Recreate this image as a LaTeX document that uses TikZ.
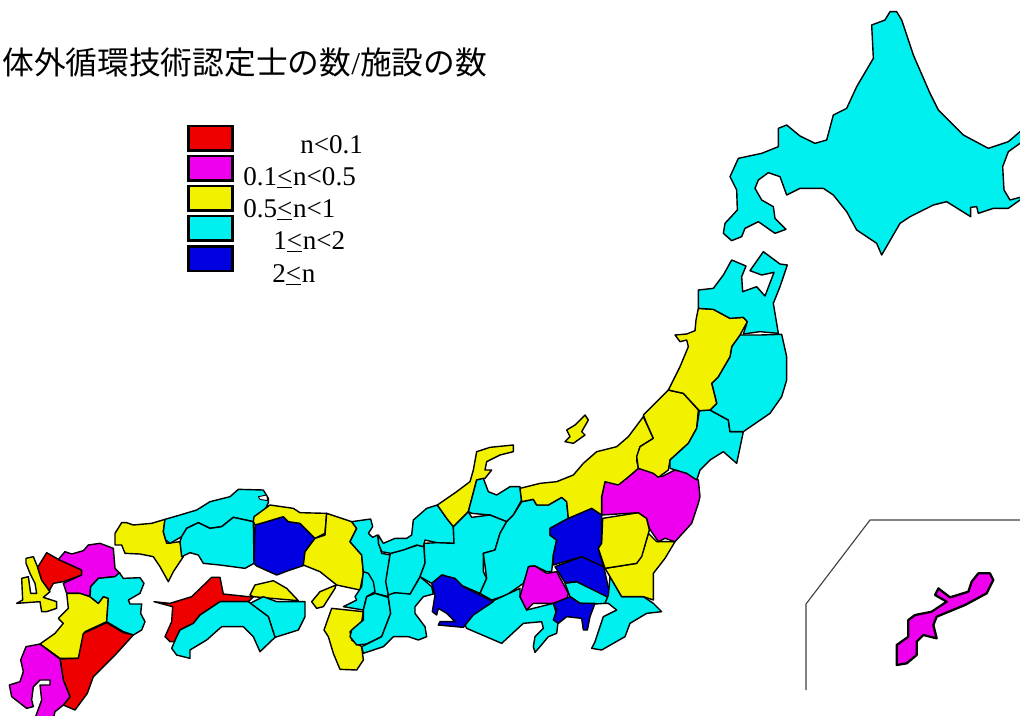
\documentclass[tikz,border=0pt]{standalone}
\usepackage{fontspec}
\setmainfont{Liberation Serif}
\newfontfamily\cjkfont{Noto Sans CJK JP}
\definecolor{mapred}{RGB}{238,0,0}
\definecolor{mapmag}{RGB}{238,0,238}
\definecolor{mapyel}{RGB}{242,242,0}
\definecolor{mapcya}{RGB}{0,240,240}
\definecolor{mapblu}{RGB}{0,0,224}
\tikzset{
 region/.style={draw=black,line width=1.05pt,line join=round},
 regred/.style={region,fill=mapred},
 regmag/.style={region,fill=mapmag},
 regyel/.style={region,fill=mapyel},
 regcya/.style={region,fill=mapcya},
 regblu/.style={region,fill=mapblu},
 keybox/.style={draw=black,line width=2pt,minimum width=33pt,minimum height=18.5pt,inner sep=0pt,anchor=north west},
 keytext/.style={anchor=base west,inner sep=0pt,font=\fontsize{20.3}{20}\selectfont},
 zoomA/.style={x=.25pt,y=-.25pt,shift={(0,1440)}},
 zoomB/.style={x=.25pt,y=-.25pt,shift={(900,1320)}},
 zoomD/.style={x=.25pt,y=-.25pt,shift={(2100,0)}},
 zoomF/.style={x=.25pt,y=-.25pt,shift={(2370,1530)}},
}
\newcommand\reg[2]{\draw[#1] plot[sharp plot] coordinates {#2} -- cycle;}
\newcommand\lte{\underline{\smash{<}}\kern.6pt}
\begin{document}
\begin{tikzpicture}[x=.75pt,y=-.75pt]
\useasboundingbox (0,0) rectangle (1020,715);
\clip (0,0) rectangle (1020,715);
% Kyushu, Chugoku, Shikoku
\begin{scope}[zoomA]
\reg{regyel}{(78,235)(100,230)(113,262)(125,300)(150,335)(130,352)(170,365)(170,385)(140,395)(125,395)(120,365)(50,370)(68,360)(65,295)(85,290)(92,340)(110,340)(105,310)(90,280)(78,250)}
\reg{regred}{(113,262)(140,218)(175,238)(245,270)(245,285)(190,305)(160,310)(148,332)(125,300)}
\reg{regmag}{(175,238)(195,215)(215,222)(250,212)(265,195)(300,190)(340,205)(345,265)(360,280)(345,290)(295,295)(272,320)(270,350)(240,340)(200,340)(190,310)(245,285)(245,270)}
\reg{regyel}{(200,340)(240,340)(270,350)(295,370)(310,350)(325,355)(320,425)(255,455)(245,510)(235,535)(180,535)(120,492)(165,460)(190,430)(175,415)(205,385)}
\reg{regcya}{(272,320)(295,295)(345,290)(358,278)(370,295)(420,293)(432,310)(420,340)(385,360)(390,372)(425,372)(422,400)(435,425)(425,450)(400,465)(370,455)(320,425)(325,355)(310,350)(295,370)(270,350)}
\reg{regred}{(320,428)(370,458)(400,465)(350,520)(280,590)(262,640)(225,690)(190,675)(210,650)(190,600)(180,537)(235,535)(250,460)}
\reg{regmag}{(120,492)(180,537)(190,600)(210,650)(190,675)(165,695)(160,715)(105,715)(125,660)(120,615)(150,615)(150,600)(120,600)(100,620)(95,660)(100,680)(80,685)(35,650)(28,615)(60,605)(70,575)(62,540)(78,500)}
\reg{regyel}{(345,195)(345,160)(365,128)(380,128)(400,135)(455,130)(495,118)(490,155)(500,190)(540,185)(550,230)(520,275)(505,305)(480,260)(460,230)(420,222)(375,220)(365,195)}
\reg{regcya}{(495,118)(540,105)(590,90)(630,65)(690,50)(715,28)(790,30)(805,55)(805,68)(790,100)(760,125)(700,112)(665,140)(630,145)(595,128)(560,145)(545,170)(510,190)(497,180)(490,155)}
\draw[region,fill=white,line width=.7pt] (775,50) -- (800,45) -- (803,62) -- (780,58) -- cycle;
\reg{regcya}{(545,170)(560,145)(595,128)(630,145)(665,140)(700,112)(760,125)(762,250)(735,265)(660,255)(610,250)(595,225)(570,218)(545,230)(540,185)}
\reg{regblu}{(765,135)(800,125)(850,110)(865,125)(900,130)(945,175)(915,215)(915,255)(870,270)(830,285)(770,258)(762,250)}
\reg{regyel}{(760,125)(762,110)(810,75)(880,85)(900,98)(980,100)(975,160)(945,175)(900,130)(865,125)(850,110)(800,125)(765,135)}
% Shikoku
\reg{regred}{(462,365)(510,370)(575,350)(635,292)(660,292)(670,342)(745,350)(760,350)(745,365)(660,365)(600,405)(580,430)(540,450)(530,485)(510,485)(495,470)(515,425)(518,380)}
\reg{regyel}{(750,345)(765,315)(820,302)(860,325)(895,362)(815,355)(760,350)}
\reg{regcya}{(750,370)(790,350)(830,365)(915,365)(915,410)(895,450)(825,472)(805,410)}
\reg{regcya}{(530,470)(540,450)(580,430)(600,405)(660,365)(745,365)(805,410)(825,472)(780,515)(760,470)(730,440)(665,440)(620,480)(570,510)(570,535)(530,525)(515,505)}
\end{scope}
% Kinki, Chubu, Kanto
\begin{scope}[zoomB]
\reg{regyel}{(80,220)(155,245)(170,265)(150,305)(185,345)(190,400)(180,450)(110,435)(60,395)(10,375)(15,335)(45,295)(75,285)}
\reg{regyel}{(108,435)(60,455)(35,485)(50,505)(70,500)(105,445)}
\reg{regcya}{(155,245)(212,237)(218,260)(205,280)(218,292)(232,285)(245,340)(270,345)(260,420)(265,470)(225,460)(190,395)(185,345)(150,305)(170,265)}
\reg{regcya}{(190,395)(205,400)(220,425)(225,455)(200,470)(190,510)(130,500)(170,480)(165,470)(185,440)}
\reg{regyel}{(95,505)(190,515)(185,545)(150,575)(155,600)(185,620)(190,660)(170,690)(120,688)(100,640)(85,590)(72,570)}
\reg{regcya}{(225,460)(265,472)(272,520)(245,590)(200,612)(170,615)(150,590)(155,570)(190,540)(190,510)(200,470)}
\reg{regcya}{(265,462)(300,455)(330,462)(360,410)(395,440)(400,462)(370,470)(345,500)(345,520)(375,560)(380,590)(355,600)(325,590)(280,590)(250,620)(190,640)(185,620)(245,590)(272,520)(265,472)}
\reg{regcya}{(272,340)(355,315)(372,320)(375,370)(360,410)(330,462)(285,458)(265,465)(257,425)(270,345)}
\reg{regcya}{(235,285)(250,310)(285,295)(320,295)(335,285)(340,240)(380,205)(412,195)(440,235)(460,260)(462,310)(410,308)(375,300)(370,320)(350,315)(310,330)(272,340)(245,335)(235,310)}
\reg{regyel}{(412,195)(470,155)(510,125)(520,90)(530,35)(570,22)(640,15)(640,35)(600,45)(560,65)(555,90)(575,90)(555,115)(530,120)(505,215)(460,260)(440,235)}
\reg{regcya}{(530,120)(550,115)(565,155)(590,165)(630,140)(660,140)(665,180)(640,225)(620,245)(570,225)(515,220)(505,215)}
\reg{regcya}{(505,215)(515,232)(570,225)(620,245)(600,280)(585,330)(550,340)(550,395)(560,415)(540,460)(470,430)(430,405)(395,430)(360,410)(375,370)(372,310)(410,308)(462,310)(460,260)}
\reg{regcya}{(620,245)(640,225)(665,185)(700,178)(710,195)(745,195)(785,172)(800,185)(805,235)(750,265)(750,285)(770,300)(760,345)(755,395)(740,395)(705,378)(690,378)(670,430)(620,465)(575,480)(540,460)(560,415)(550,340)(585,330)(600,280)}
\reg{regcya}{(490,545)(530,510)(580,482)(660,445)(660,470)(680,510)(760,490)(775,540)(770,580)(745,590)(720,620)(705,637)(700,620)(705,590)(730,565)(725,545)(670,550)(605,610)(500,565)}
\reg{regblu}{(395,430)(425,405)(465,415)(490,440)(540,465)(580,485)(520,525)(490,562)(415,555)(420,545)(465,545)(440,520)(415,505)(410,525)(397,515)(405,465)}
\reg{regmag}{(685,380)(705,378)(740,400)(770,395)(805,460)(800,480)(760,490)(700,490)(680,510)(660,470)}
\reg{regcya}{(795,430)(830,425)(925,470)(915,490)(885,492)(840,490)(810,470)}
\reg{regblu}{(760,490)(810,470)(840,490)(885,490)(870,530)(862,570)(850,570)(845,535)(800,530)(775,550)(760,540)(770,510)}
\reg{regblu}{(765,380)(845,350)(910,375)(930,465)(920,470)(830,425)(795,428)}
\reg{regblu}{(805,235)(875,205)(905,225)(905,310)(895,325)(910,380)(845,350)(760,375)(760,345)(770,300)(750,285)(750,265)}
\reg{regcya}{(930,410)(965,470)(1030,470)(1060,490)(1085,515)(1040,520)(990,550)(975,590)(905,630)(875,625)(885,605)(910,530)(950,510)(925,490)(915,490)(925,465)}
\reg{regyel}{(1045,280)(1070,305)(1125,305)(1095,355)(1060,400)(1060,480)(1030,470)(965,470)(930,410)(915,385)(1010,370)(1030,330)}
\reg{regyel}{(908,235)(1015,218)(1040,235)(1048,270)(1025,350)(1010,370)(915,385)(895,325)(905,310)}
\reg{regmag}{(905,225)(905,170)(915,125)(955,130)(980,115)(1015,85)(1060,95)(1085,110)(1125,90)(1165,100)(1195,120)(1200,170)(1195,190)(1175,250)(1125,305)(1095,295)(1075,305)(1048,265)(1040,235)(1015,218)}
\reg{regyel}{(660,145)(720,130)(770,125)(820,105)(850,70)(890,35)(950,20)(985,-10)(1030,-70)(1060,-5)(1020,20)(1010,60)(1015,85)(980,115)(955,135)(915,125)(905,170)(905,225)(875,205)(805,235)(800,185)(785,172)(745,195)(710,195)(700,178)(665,185)}
\end{scope}
% Tohoku
\begin{scope}[zoomB,shift={(720,-600)}]
\reg{regyel}{(80,570)(105,555)(135,525)(145,540)(125,575)(135,585)(100,610)(75,605)(90,590)}
\reg{regyel}{(310,525)(385,450)(430,460)(475,510)(470,565)(445,610)(390,660)(385,690)(355,712)(340,700)(295,685)(290,650)(300,620)(340,595)(320,550)}
\reg{regcya}{(478,512)(510,510)(565,540)(570,575)(610,575)(590,670)(550,635)(510,660)(480,690)(470,720)(440,700)(390,685)(390,660)(445,610)(470,565)}
\reg{regcya}{(600,285)(660,285)(725,283)(740,350)(740,420)(725,470)(690,520)(610,575)(570,575)(565,540)(510,510)(530,490)(515,430)(535,410)(570,350)(575,320)}
\reg{regyel}{(475,205)(520,208)(570,235)(610,232)(622,245)(600,285)(575,320)(570,350)(535,410)(515,430)(530,490)(510,510)(478,512)(430,460)(385,450)(420,380)(445,320)(440,300)(420,305)(405,285)(440,282)(465,272)(468,240)}
\reg{regcya}{(475,150)(520,145)(550,105)(575,60)(618,78)(605,110)(608,155)(650,140)(675,168)(702,97)(665,105)(630,92)(670,35)(720,72)(742,75)(720,140)(700,190)(715,280)(660,275)(610,282)(622,245)(610,232)(570,235)(520,208)(475,205)}
\end{scope}
% Hokkaido
\begin{scope}[zoomD]
\reg{regcya}{(570,35)(590,35)(605,60)(640,165)(690,280)(715,330)(790,405)(865,445)(925,425)(960,395)(975,395)(975,430)(960,430)(925,455)(908,500)(912,570)(930,600)(960,592)(975,592)(975,600)(960,600)(925,625)(880,625)(835,640)(830,620)(812,622)(812,650)(780,630)(740,605)(700,615)(630,650)(600,670)(545,765)(530,730)(470,690)(440,635)(400,585)(370,565)(300,565)(260,585)(240,530)(205,518)(175,540)(165,565)(185,600)(220,620)(225,655)(258,688)(225,700)(175,665)(135,685)(125,710)(95,722)(70,700)(75,670)(112,630)(110,570)(90,530)(115,475)(185,460)(235,440)(235,385)(260,375)(300,408)(345,430)(380,420)(400,345)(440,325)(470,260)(520,175)(515,75)(555,60)}
\end{scope}
% Okinawa inset
\begin{scope}[zoomF]
\coordinate (insetA) at (48,540);
\coordinate (insetB) at (48,282);
\coordinate (insetC) at (240,30);
\coordinate (insetD) at (700,30);
\draw[black!75,line width=.85pt] (insetA) -- (insetB) -- (insetC) -- (insetD);
\draw[regmag,line width=1.7pt] plot[sharp plot] coordinates {(320,405)(355,380)(355,330)(375,315)(425,305)(470,275)(435,255)(445,235)(480,262)(535,245)(545,215)(565,190)(600,190)(610,210)(590,250)(525,285)(440,320)(430,345)(440,385)(400,375)(380,395)(380,435)(350,460)(320,465)} -- cycle;
\end{scope}
% Title and legend
\node[anchor=base west,inner sep=0pt,font=\fontsize{23.8}{24}\selectfont] (title) at (2,74) {{\cjkfont 体外循環技術認定士の数}/{\cjkfont 施設の数}};
\node[keybox,fill=mapred] (k1) at (187,124.5) {};
\node[keybox,fill=mapmag] (k2) at (187,154.5) {};
\node[keybox,fill=mapyel] (k3) at (187,184.5) {};
\node[keybox,fill=mapcya] (k4) at (187,214.5) {};
\node[keybox,fill=mapblu] (k5) at (187,245) {};
\node[keytext] (t1) at (300,153) {n<0.1};
\node[keytext] (t2) at (243,185) {0.1\lte n<0.5};
\node[keytext] (t3) at (243,217) {0.5\lte n<1};
\node[keytext] (t4) at (273,249) {1\lte n<2};
\node[keytext] (t5) at (272,282) {2\lte n};
\end{tikzpicture}
\end{document}
